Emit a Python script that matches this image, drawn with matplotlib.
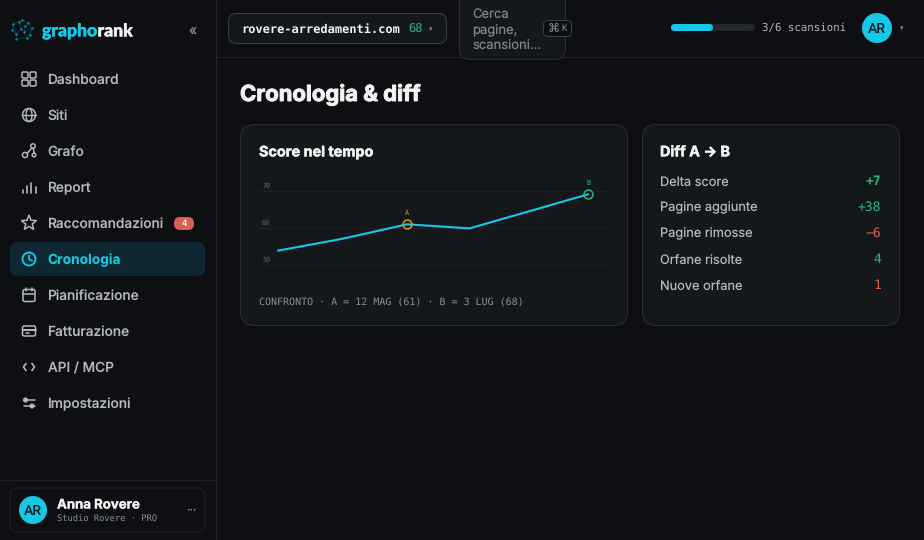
import datetime as dt
import matplotlib
matplotlib.use("Agg")
import matplotlib.pyplot as plt
import matplotlib.dates as mdates
import matplotlib.patheffects as pe
from matplotlib.patches import FancyBboxPatch, Circle, Ellipse, Polygon
import numpy as np

plt.rcParams["text.hinting"] = "no_hinting"

# ---- data ----
score_dates = [dt.date(2025, 4, 5), dt.date(2025, 4, 23), dt.date(2025, 5, 12), dt.date(2025, 5, 30), dt.date(2025, 7, 3)]
score_values = [53.9, 57.0, 61.0, 59.9, 69.1]
marker_a_index = 2
marker_b_index = 4
y_ticks = [50, 60, 70]
nav_labels = ["Dashboard", "Siti", "Grafo", "Report", "Raccomandazioni", "Cronologia",
              "Pianificazione", "Fatturazione", "API / MCP", "Impostazioni"]
diff_labels = ["Delta score", "Pagine aggiunte", "Pagine rimosse", "Orfane risolte", "Nuove orfane"]
diff_values = ["+7", "+38", "\u22126", "4", "1"]
diff_positive = [True, True, False, True, False]

BG = "#0d0f12"; CARD = "#14181b"; BORDER = "#2a2e31"; LINE = "#1f2326"
CYAN = "#14c8e6"; GREEN = "#2fb380"; RED = "#d9604e"; AMBER = "#d8981c"
TXT = "#f2f3f3"; MUTED = "#b4b8ba"; DIM = "#8a8f92"; ICON = "#b4b8ba"
SANS = "Inter"; MONO = "DejaVu Sans Mono"
PX = 0.72

fig = plt.figure(figsize=(9.24, 5.40), dpi=100, facecolor=BG)
ui = fig.add_axes([0, 0, 1, 1], zorder=1)
ui.set_xlim(0, 924); ui.set_ylim(540, 0); ui.axis("off")

def T(x, y, s, px=14, c=TXT, w="normal", f=SANS, ha="left", heavy=0, **kw):
    dy = 1.9 if f == SANS else 1.2
    t = ui.text(x, y + dy, s, fontsize=px * PX, color=c, fontweight=w, family=f, ha=ha, va="center", **kw)
    if heavy:
        t.set_path_effects([pe.withStroke(linewidth=heavy, foreground=c)])
    return t

def box(x0, y0, x1, y1, r, fc=CARD, ec=BORDER, lw=0.72, z=1):
    p = FancyBboxPatch((x0, y0), x1 - x0, y1 - y0, boxstyle=f"round,pad=0,rounding_size={r}",
                       fc=fc, ec=ec, lw=lw, zorder=z)
    ui.add_patch(p); return p

def L(xs, ys, c=ICON, lw=1.1, z=3):
    ui.plot(xs, ys, color=c, lw=lw, zorder=z, solid_capstyle="round", solid_joinstyle="round")

def C(x, y, r, fc="none", ec=ICON, lw=1.1, z=3):
    ui.add_patch(Circle((x, y), r, fc=fc, ec=ec, lw=lw, zorder=z))

# chrome lines
L([215.5, 215.5], [0, 540], LINE, 0.72, 0)
L([216, 924], [56.5, 56.5], LINE, 0.72, 0)
L([0, 215], [479.5, 479.5], LINE, 0.72, 0)

# logo
lx = [22, 13, 16, 27, 32, 21, 28, 16, 24, 12, 30, 19, 25]
ly = [20, 24, 34, 38, 28, 29, 23, 39, 32, 30, 35, 22, 26]
for a, b in [(0, 1), (1, 2), (2, 5), (5, 8), (8, 3), (3, 4), (4, 6), (6, 0), (5, 6), (2, 7), (7, 3), (1, 9), (9, 2), (4, 10), (10, 3), (8, 4), (11, 5), (12, 8)]:
    L([lx[a], lx[b]], [ly[a], ly[b]], "#0b4855", 0.5)
ui.scatter(lx, ly, s=3, color="#0f8ea5", zorder=4, linewidths=0)
T(42, 30, "grapho", 17.6, CYAN, "black", "Lato", heavy=0.3)
T(97.5, 30, "rank", 17.6, TXT, "black", "Lato", heavy=0.3)
T(193, 29.5, "«", 14, "#8a8f92", ha="center")

# nav
ys = [79 + 36 * i for i in range(10)]
box(10, 242, 205, 276, 8, fc="#0f2730", ec="none")
for label, y in zip(nav_labels, ys):
    active = label == "Cronologia"
    T(47.5, y - 0.5, label, 13.7, CYAN if active else MUTED, "bold" if active else "medium")

# icons
y = ys[0]
for dx, dy in [(-7, -7), (1, -7), (-7, 1), (1, 1)]:
    box(29 + dx, y + dy, 29 + dx + 6, y + dy + 6, 1.2, fc="none", ec=ICON, lw=1.1, z=3)
y = ys[1]
C(29, y, 6.5)
ui.add_patch(Ellipse((29, y), 6, 13, fc="none", ec=ICON, lw=1, zorder=3))
L([22.5, 35.5], [y, y], lw=1)
y = ys[2]
C(25, y + 4, 2.6); C(33, y - 5, 2.2); C(34, y + 4, 1.8)
L([27, 32], [y + 2.4, y - 3.2]); L([33.3, 34], [y - 3, y + 2.3])
y = ys[3]
for dx, h in zip([-6.5, -2.2, 2.2, 6.5], [3, 7, 10, 6]):
    L([29 + dx, 29 + dx], [y + 6, y + 6 - h], lw=1.2)
y = ys[4]
ang = np.deg2rad(np.arange(-90, 270, 36))
rad = np.where(np.arange(10) % 2 == 0, 8, 3.4)
ui.add_patch(Polygon(np.c_[29 + rad * np.cos(ang), y + rad * np.sin(ang)], closed=True, fc="none", ec=ICON, lw=1.1, zorder=3))
box(174, 217, 194, 230, 6, fc=RED, ec="none", z=2)
T(184, 222.3, "4", 9, "#ffffff", "bold", MONO, ha="center", zorder=4)
y = ys[5]
C(29, y, 6.5, ec=CYAN, lw=1.4)
L([29, 29, 32], [y - 3.5, y, y + 1.8], CYAN, 1.3)
y = ys[6]
box(23, y - 5.5, 35, y + 6.5, 1.8, fc="none", ec=ICON, lw=1.1, z=3)
L([23, 35], [y - 1.5, y - 1.5]); L([26, 26], [y - 7.5, y - 4.5]); L([32, 32], [y - 7.5, y - 4.5])
y = ys[7]
box(22.5, y - 5, 35.5, y + 5, 1.8, fc="none", ec=ICON, lw=1.1, z=3)
L([22.5, 35.5], [y - 1.5, y - 1.5], lw=1.4); L([25.5, 28.5], [y + 2, y + 2])
y = ys[8]
L([26, 23.5, 26], [y - 3.5, y, y + 3.5], lw=1.2); L([32, 34.5, 32], [y - 3.5, y, y + 3.5], lw=1.2)
y = ys[9]
L([23.5, 35], [y - 3, y - 3]); L([23.5, 35], [y + 3, y + 3])
C(25.5, y - 3, 1.8, fc=ICON); C(32, y + 3, 1.8, fc=ICON)

# user card
box(10, 488, 205, 532, 8, fc="none", ec=LINE)
C(33, 510, 14, fc=CYAN, ec="none")
T(33, 509.5, "AR", 14, "#0d1a20", "medium", "Roboto", ha="center", zorder=5)
T(57, 503, "Anna Rovere", 13.2, TXT, "bold", heavy=0.2)
T(57, 517, "Studio Rovere · PRO", 8.8, DIM, f=MONO)
T(191, 508, "···", 12, DIM, ha="center")

# top bar
box(228.5, 13.5, 446.5, 43.5, 8, fc=CARD, ec="#3a3e41")
T(241, 28, "rovere-arredamenti.com", 12, TXT, "bold", MONO)
T(408, 28, "68", 12, GREEN, f=MONO)
T(431, 28, "▾", 7, DIM, ha="center", f="DejaVu Sans")
box(459.5, -12, 565.5, 59.5, 10, fc=CARD, ec=BORDER, z=1)
for yy, s in zip([13, 28, 43], ["Cerca", "pagine,", "scansioni…"]):
    T(472, yy, s, 13, "#7f8487")
box(543.5, 20.5, 571.5, 36.5, 4, fc=BG, ec="#3a3e41", z=2)
T(554, 27.5, "⌘", 12, DIM, f="DejaVu Sans", ha="center", zorder=4)
T(564, 27.5, "K", 9, DIM, f=MONO, ha="center", zorder=4)
box(671, 24, 755, 31, 3.5, fc="#22272a", ec="none")
box(671, 24, 713, 31, 3.5, fc=CYAN, ec="none", z=2)
T(762, 27, "3/6 scansioni", 10.8, MUTED, f=MONO)
C(877, 28, 15, fc=CYAN, ec="none")
T(877, 27.5, "AR", 14, "#0d1a20", "medium", "Roboto", ha="center", zorder=5)
T(902, 27, "▾", 7, DIM, ha="center", f="DejaVu Sans")

# page
T(240, 93, "Cronologia & diff", 22, TXT, "bold", heavy=0.7)
box(240.5, 124.5, 627.5, 325.5, 14)
box(642.5, 124.5, 899.5, 325.5, 14)
T(259, 150.5, "Score nel tempo", 14.4, TXT, "bold", heavy=0.35)
T(660, 150.5, "Diff A → B", 14.4, TXT, "bold", heavy=0.35)
T(259, 300.5, "CONFRONTO · A = 12 MAG (61) · B = 3 LUG (68)", 10, DIM, f=MONO)

for i, (lab, val, pos) in enumerate(zip(diff_labels, diff_values, diff_positive)):
    y = 180 + 26 * i
    T(660, y, lab, 12.8, MUTED)
    T(881, y, val, 13, GREEN if pos else RED, "bold" if i == 0 else "normal", MONO, ha="right")

# chart axes, aligned with the card
W, H = 924, 540
x_left, x_right, y_top, y_bottom = 259, 609, 176, 280
ax = fig.add_axes([x_left / W, 1 - y_bottom / H, (x_right - x_left) / W, (y_bottom - y_top) / H], zorder=2)
ax.patch.set_alpha(0)
for s in ax.spines.values():
    s.set_visible(False)
d0 = mdates.date2num(score_dates[marker_a_index])
pxday = (588 - 407) / 52
ax.set_xlim(d0 + (x_left - 407) / pxday, d0 + (x_right - 407) / pxday)
ax.set_ylim(50 - 15 / 3.7, 70 + 15 / 3.7)
ax.set_xticks([]); ax.set_yticks(y_ticks)
ax.set_yticklabels([])
ax.tick_params(length=0)
ax.grid(axis="y", color="#1e2225", lw=0.72)
ax.set_axisbelow(True)
for v in y_ticks:
    ax.annotate(str(v), xy=(0, v), xycoords=ax.get_yaxis_transform(), xytext=(2.2, 3.6), textcoords="offset points",
                fontsize=6.8 * PX, color="#5f6467", family=MONO, va="center", ha="left")
xd = mdates.date2num(score_dates)
ax.plot(xd, score_values, color=CYAN, lw=1.5, solid_joinstyle="round", zorder=3)
for idx, col, name in [(marker_a_index, AMBER, "A"), (marker_b_index, GREEN, "B")]:
    ax.plot(xd[idx], score_values[idx], "o", ms=6.4, mfc="none", mec=col, mew=1.1, zorder=4)
    ax.annotate(name, xy=(xd[idx], score_values[idx]), xytext=(0, 8), textcoords="offset points",
                fontsize=6.8 * PX, color=col, family=MONO, ha="center", va="center")

fig.savefig("out.png", dpi=100, facecolor=BG)
